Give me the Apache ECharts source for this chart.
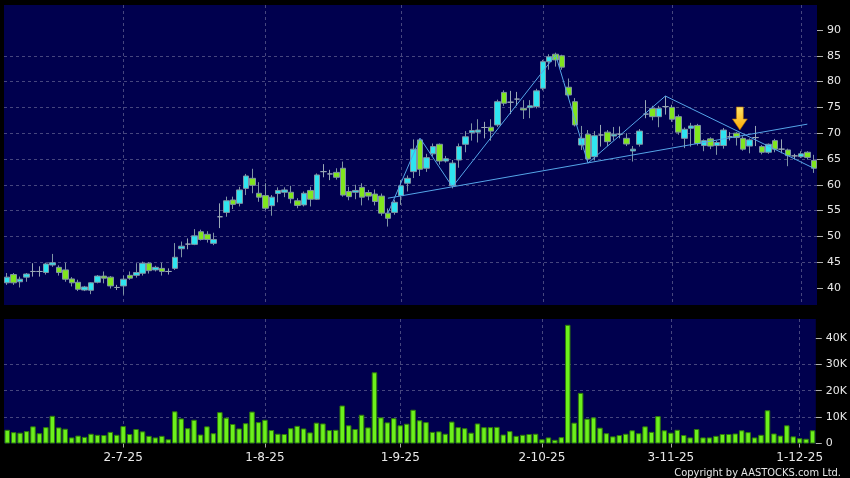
<!DOCTYPE html>
<html><head><meta charset="utf-8">
<script src="https://cdn.jsdelivr.net/npm/echarts@6/dist/echarts.min.js"></script>
<style>html,body{margin:0;padding:0;background:#000;}#c{width:850px;height:478px;}</style>
</head><body><div id="c"></div>
<script>
const dates = [
'5-6-25','6-6-25','9-6-25','10-6-25','11-6-25','12-6-25','13-6-25','16-6-25','17-6-25','18-6-25','19-6-25','20-6-25','23-6-25','24-6-25','25-6-25','26-6-25','27-6-25','30-6-25',
'2-7-25','3-7-25','4-7-25','7-7-25','8-7-25','9-7-25','10-7-25','11-7-25','14-7-25','15-7-25','16-7-25','17-7-25','18-7-25','21-7-25','22-7-25','23-7-25','24-7-25','25-7-25','28-7-25','29-7-25','30-7-25','31-7-25',
'1-8-25','4-8-25','5-8-25','6-8-25','7-8-25','8-8-25','11-8-25','12-8-25','13-8-25','14-8-25','15-8-25','18-8-25','19-8-25','20-8-25','21-8-25','22-8-25','25-8-25','26-8-25','27-8-25','28-8-25','29-8-25',
'1-9-25','2-9-25','3-9-25','4-9-25','5-9-25','8-9-25','9-9-25','10-9-25','11-9-25','12-9-25','15-9-25','16-9-25','17-9-25','18-9-25','19-9-25','22-9-25','23-9-25','24-9-25','25-9-25','26-9-25','29-9-25','30-9-25',
'2-10-25','3-10-25','6-10-25','8-10-25','9-10-25','10-10-25','13-10-25','14-10-25','15-10-25','16-10-25','17-10-25','20-10-25','21-10-25','22-10-25','23-10-25','24-10-25','27-10-25','28-10-25','30-10-25','31-10-25',
'3-11-25','4-11-25','5-11-25','6-11-25','7-11-25','10-11-25','11-11-25','12-11-25','13-11-25','14-11-25','17-11-25','18-11-25','19-11-25','20-11-25','21-11-25','24-11-25','25-11-25','26-11-25','27-11-25','28-11-25',
'1-12-25','2-12-25','3-12-25'];

const opens = [41.0,42.6,41.2,42.1,43.2,43.2,43.0,44.45,44.0,43.5,41.75,41.1,39.6,39.55,41.1,42.3,42.1,40.1,40.4,42.45,42.45,42.85,44.8,43.5,43.8,43.2,43.8,47.6,48.5,
48.45,50.9,50.4,48.65,53.8,54.65,57.05,56.4,59.3,61.25,58.35,57.9,55.95,58.3,58.55,58.55,56.9,56.1,58.9,57.2,62.55,62.1,62.4,63.2,58.7,58.55,59.5,58.5,58.2,57.8,54.5,54.65,57.9,60.3,62.55,68.7,
63.2,66.0,67.85,64.6,59.8,64.8,67.85,70.1,70.2,71.1,71.15,71.6,77.9,76.0,76.6,74.8,74.95,75.15,78.7,83.85,85.3,85.0,78.9,76.1,67.7,69.8,65.45,69.65,70.2,69.45,69.8,69.0,66.55,67.85,73.7,74.8,73.2,75.15,75.0,73.2,69.0,70.95,71.5,67.6,68.9,67.6,67.6,69.3,70.0,69.0,67.5,69.15,67.4,66.3,68.55,66.9,66.75,65.6,65.45,66.3,64.7];
const closes = [42.1,41.0,41.7,42.7,43.2,43.2,44.65,44.9,43.0,41.7,41.0,39.75,40.2,41.0,42.3,41.9,40.4,40.1,41.7,41.9,43.0,44.8,43.35,44.0,43.2,43.2,45.95,48.1,48.5,
50.1,49.4,49.4,49.4,53.8,56.9,56.2,59.0,61.7,59.9,57.6,55.45,57.6,58.9,59.0,57.3,56.0,58.35,57.2,61.9,62.55,62.1,61.45,58.0,57.7,58.9,57.6,57.8,56.75,54.5,53.5,56.6,59.8,61.25,66.9,63.0,
65.25,67.4,64.6,65.05,64.2,67.4,69.3,70.5,70.6,71.1,70.4,76.1,75.8,76.0,76.6,74.5,75.3,78.2,83.85,84.8,84.2,82.8,77.4,71.6,69.0,65.0,69.5,69.65,68.35,69.8,69.8,67.9,66.9,70.4,73.7,73.2,74.8,75.15,72.7,70.2,70.75,71.4,68.0,68.55,67.5,68.2,70.6,69.3,69.15,66.9,68.7,69.15,66.3,67.85,66.9,66.9,65.65,65.6,66.0,65.3,63.2];
const lows = [40.6,40.6,40.1,41.2,42.2,42.2,42.6,44.1,42.4,41.2,40.3,39.4,39.4,38.8,40.9,40.9,39.9,39.6,38.7,41.6,42.0,42.4,42.8,43.2,42.4,42.6,43.5,45.95,47.5,
48.3,49.2,48.8,48.3,51.6,53.8,55.3,55.8,58.0,58.35,56.7,55.1,54.0,56.6,57.6,56.4,55.45,55.8,55.8,57.05,61.45,60.9,61.0,57.7,57.0,57.2,56.0,57.0,56.0,54.0,51.9,54.2,56.1,58.7,61.3,61.7,
62.5,65.5,63.9,64.3,59.3,63.3,66.3,68.55,68.2,69.0,68.55,71.2,75.3,73.7,75.3,72.75,72.9,74.8,78.3,82.3,82.9,82.3,76.8,71.3,66.75,64.5,64.7,67.4,67.5,68.6,69.0,67.5,64.5,67.4,72.9,72.5,71.15,73.6,72.2,69.7,67.1,67.4,67.6,66.5,66.9,65.8,67.0,68.6,67.6,66.6,66.1,67.5,65.9,66.0,66.3,66.1,63.6,64.9,65.2,64.9,62.3];
const highs = [42.9,42.9,42.2,42.9,44.8,44.2,44.9,46.6,44.4,44.9,42.1,41.6,40.4,41.1,42.5,43.2,42.3,40.6,42.4,43.2,44.8,45.1,45.0,44.3,44.9,43.8,48.7,49.0,49.6,
51.4,51.3,51.0,50.7,56.4,57.7,57.7,59.6,62.1,63.1,60.5,60.3,58.0,59.5,59.5,59.8,57.4,58.7,59.6,62.2,64.0,62.9,63.2,64.5,59.6,60.0,60.3,59.0,59.1,58.3,55.4,57.1,60.9,61.8,68.8,69.0,
66.0,68.0,68.0,65.6,64.8,68.0,70.4,71.9,72.7,72.2,72.7,76.5,78.3,78.2,78.0,76.4,76.4,78.6,84.2,85.3,85.6,85.2,80.6,76.8,71.4,70.6,70.4,71.6,70.6,71.2,71.3,70.0,67.5,70.8,76.4,75.3,75.3,77.2,75.5,73.6,71.1,72.0,71.8,68.8,69.2,68.5,71.0,70.2,70.2,69.4,69.0,71.4,67.7,68.0,68.9,68.8,67.0,66.0,66.5,66.5,65.8];
const volumes = [5200,4300,4100,4700,6500,3900,6200,10500,6100,5600,2300,3000,2500,3700,3300,3200,4400,3300,6600,3600,5500,4600,2900,2300,2900,1600,12200,9500,5800,
9000,3400,6500,3900,11900,9800,7400,5700,7700,12100,8100,9000,5100,3700,3600,5800,6700,5700,4200,7900,7600,5100,5200,14400,6900,5500,10900,6100,27000,9900,8000,9600,6900,7500,12800,8800,
8100,4400,4600,3700,8300,6200,5800,4100,7600,6200,6200,6300,3400,4700,2900,3300,3600,3700,1600,2300,1400,2400,45000,7900,19200,9400,9900,6000,3900,2700,3200,3700,5000,3900,6500,4400,10400,5000,4100,5200,3200,2300,5500,2300,2300,2900,3600,3600,3800,5000,4300,2300,3300,12600,3800,3000,6900,2700,2000,1800,5000];

const dateTickLabels = ['2-7-25','1-8-25','1-9-25','2-10-25','3-11-25','1-12-25'];
const priceTicks = [40,45,50,55,60,65,70,75,80,85,90];
const volumeTicks = [0,10000,20000,30000,40000];
// trend lines: [category index, price]
const zigzag = [[59,54.5],[64,69.0],[69,59.6],[85,85.15],[90,64.2],[102,77.2],[125,63.2]];
const supportLine = [[59,57.4],[124,71.75]];
const arrowAt = [113, 72.85];

const candleData = dates.map((d,i)=>[opens[i],closes[i],lows[i],highs[i]]);
const isTick = (idx, val) => dateTickLabels.indexOf(val) >= 0;
const gridColor = '#46467e';
const lineBlue = '#55a5e8';
const labelFont = 'DejaVu Sans';

const chart = echarts.init(document.getElementById('c'), null, {renderer:'canvas'});
chart.setOption({
  backgroundColor:'#000000',
  animation:false,
  title:{text:'Copyright by AASTOCKS.com Ltd.', right:4, top:463,
    textStyle:{color:'#e6e6e6', fontSize:11, fontWeight:'normal', fontFamily:'DejaVu Sans Condensed, DejaVu Sans'}},
  grid:[
    {left:4, right:33, top:5, height:300, show:true, backgroundColor:'#00004e', borderWidth:0},
    {left:4, right:33, top:319, height:124.5, show:true, backgroundColor:'#00004e', borderWidth:0}
  ],
  xAxis:[
    {type:'category', gridIndex:0, data:dates, boundaryGap:true,
     axisLine:{show:false}, axisTick:{show:false}, axisLabel:{show:false},
     splitLine:{show:true, alignWithLabel:true, interval:isTick, lineStyle:{color:gridColor, type:[3,3], width:1}}},
    {type:'category', gridIndex:1, data:dates, boundaryGap:true,
     axisLine:{show:false},
     axisTick:{show:true, alignWithLabel:true, interval:isTick, length:4, lineStyle:{color:'#aaaaaa'}},
     axisLabel:{interval:isTick, color:'#e8e8e8', fontSize:12, fontFamily:labelFont, margin:8},
     splitLine:{show:true, alignWithLabel:true, interval:isTick, lineStyle:{color:gridColor, type:[3,3], width:1}}}
  ],
  yAxis:[
    {type:'value', gridIndex:0, position:'right', min:36.7, max:94.84, splitNumber:12, minInterval:5, maxInterval:5,
     axisLine:{show:false},
     axisTick:{show:true, customValues:priceTicks, length:6, lineStyle:{color:'#b0b0b0'}},
     axisLabel:{customValues:priceTicks, color:'#e8e8e8', fontSize:11, fontFamily:labelFont, margin:10},
     splitLine:{show:true, showMinLine:false, showMaxLine:false, lineStyle:{color:gridColor, type:[3,3], width:1}}},
    {type:'value', gridIndex:1, position:'right', min:0, max:47200, interval:10000,
     axisLine:{show:false},
     axisTick:{show:true, customValues:volumeTicks, length:6, lineStyle:{color:'#b0b0b0'}},
     axisLabel:{customValues:volumeTicks, color:'#e8e8e8', fontSize:11, fontFamily:labelFont, margin:10,
       formatter:v=> v===0 ? '0' : (v/1000)+'K'},
     splitLine:{show:true, showMinLine:false, showMaxLine:false, lineStyle:{color:gridColor, type:[3,3], width:1}}}
  ],
  series:[
    {type:'candlestick', xAxisIndex:0, yAxisIndex:0, data:candleData, barWidth:6,
     itemStyle:{color:'#2ee4f0', color0:'#80e61e', borderColor:'#7f95a4', borderColor0:'#7f95a4', borderColorDoji:'#9aa9b5', borderWidth:1},
     markPoint:{silent:true, label:{show:false},
       data:[{coord:arrowAt, symbol:'path://M4,0L11,0L11,12L15,12L7.5,23L0,12L4,12Z', symbolSize:[15,23], symbolOffset:[3.5,0],
         itemStyle:{color:{type:'linear',x:0,y:0,x2:0,y2:1,colorStops:[{offset:0,color:'#ffe56a'},{offset:1,color:'#ffa800'}]}, borderColor:'#a86400', borderWidth:0.6}}]}},
    {type:'line', xAxisIndex:0, yAxisIndex:0, data:zigzag, symbol:'none', z:5, silent:true,
     lineStyle:{color:lineBlue, width:1}},
    {type:'line', xAxisIndex:0, yAxisIndex:0, data:supportLine, symbol:'none', z:5, silent:true,
     lineStyle:{color:lineBlue, width:1}},
    {type:'bar', xAxisIndex:1, yAxisIndex:1, data:volumes, barWidth:5.5,
     itemStyle:{color:'#6cf01c', borderColor:'#2f7a0a', borderWidth:1}}
  ]
});
</script></body></html>
